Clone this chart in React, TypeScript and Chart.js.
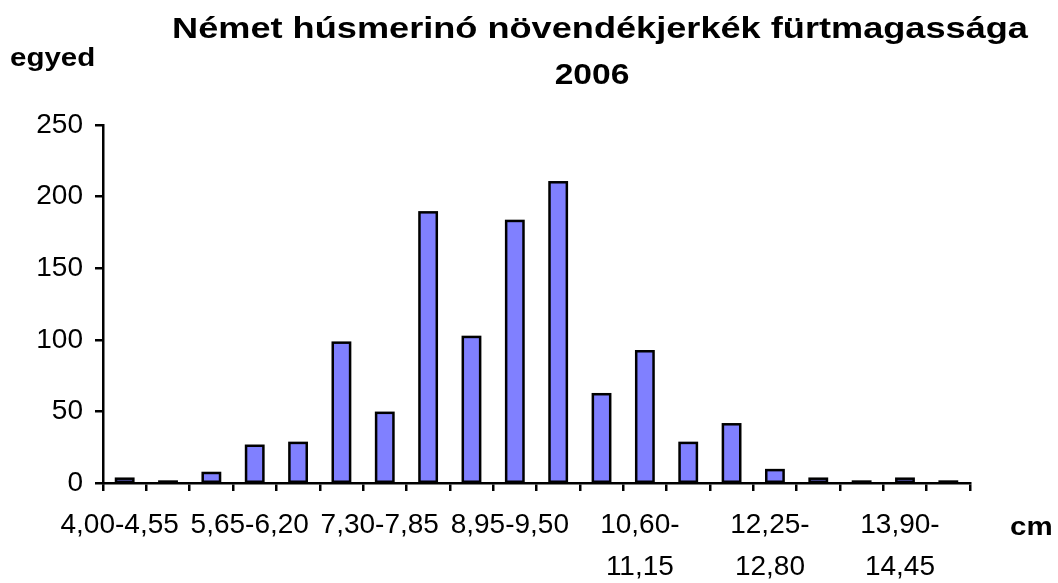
import React, { useEffect, useRef } from "react";
import { Chart, registerables } from "chart.js";

Chart.register(...registerables);

const categories: string[] = [
  "4,00-4,55", "4,55-5,10", "5,10-5,65", "5,65-6,20", "6,20-6,75",
  "6,75-7,30", "7,30-7,85", "7,85-8,40", "8,40-8,95", "8,95-9,50",
  "9,50-10,05", "10,05-10,60", "10,60-11,15", "11,15-11,70", "11,70-12,25",
  "12,25-12,80", "12,80-13,35", "13,35-13,90", "13,90-14,45", "14,45-15,00",
];

const counts: number[] = [3, 1, 7, 26, 28, 98, 49, 189, 102, 183, 210, 62, 92, 28, 41, 9, 3, 1, 3, 1];

const yTicks: number[] = [0, 50, 100, 150, 200, 250];

const titleLines: string[] = ["Német húsmerinó növendékjerkék fürtmagassága", "2006"];
const yAxisTitle = "egyed";
const xAxisTitle = "cm";

const FONT = "'Liberation Sans', Arial, Helvetica, sans-serif";

const barOutlinePlugin = {
  id: "barOutline",
  afterDatasetsDraw(chart: any) {
    const ctx = chart.ctx as CanvasRenderingContext2D;
    const meta = chart.getDatasetMeta(0);
    ctx.save();
    ctx.strokeStyle = "#000";
    ctx.lineWidth = 2.5;
    ctx.lineJoin = "miter";
    meta.data.forEach((el: any) => {
      const p = el.getProps(["x", "y", "base", "width"], true);
      ctx.strokeRect(p.x - p.width / 2, p.y, p.width, p.base - p.y);
    });
    ctx.restore();
  },
};

const textPlugin = {
  id: "customTexts",
  afterDraw(chart: any) {
    const ctx = chart.ctx as CanvasRenderingContext2D;
    ctx.save();
    ctx.fillStyle = "#000";
    ctx.textBaseline = "alphabetic";
    const draw = (t: string, x: number, y: number, size: number, align: CanvasTextAlign, sx: number) => {
      ctx.save();
      ctx.font = `bold ${size}px ${FONT}`;
      ctx.textAlign = align;
      ctx.translate(x, y);
      ctx.scale(sx, 1);
      ctx.fillText(t, 0, 0);
      ctx.restore();
    };
    draw(titleLines[0], 600, 38, 30, "center", 1.205);
    draw(titleLines[1], 592, 84, 30, "center", 1.12);
    draw(yAxisTitle, 10, 66, 25, "left", 1.18);
    draw(xAxisTitle, 1010, 535, 25, "left", 1.18);
    ctx.restore();
  },
};

export default function App() {
  const ref = useRef<HTMLCanvasElement | null>(null);
  useEffect(() => {
    if (!ref.current) return;
    const chart = new Chart(ref.current, {
      type: "bar",
      data: {
        labels: categories,
        datasets: [
          {
            data: counts,
            backgroundColor: "#8080FF",
            borderWidth: 0,
            barPercentage: 0.4,
            categoryPercentage: 1.0,
          },
        ],
      },
      options: {
        animation: false,
        responsive: true,
        maintainAspectRatio: false,
        layout: { padding: { left: 0, top: 125, right: 88, bottom: 0 } },
        plugins: {
          legend: { display: false },
          title: { display: false },
          tooltip: { enabled: false },
        },
        scales: {
          x: {
            offset: true,
            grid: {
              display: true,
              offset: true,
              drawOnChartArea: false,
              drawTicks: true,
              tickLength: 8,
              color: "#000",
              lineWidth: 2.5,
            },
            border: { display: true, color: "#000", width: 2.5 },
            ticks: {
              autoSkip: false,
              maxRotation: 0,
              minRotation: 0,
              padding: 13,
              labelOffset: -5,
              color: "#000",
              font: { family: FONT, size: 28, lineHeight: 1.5 },
              callback: function (_v: any, index: number) {
                if (index % 3 !== 0) return "";
                const lab = categories[index];
                if (lab.length > 9) {
                  const i = lab.indexOf("-");
                  return [lab.slice(0, i + 1), lab.slice(i + 1)];
                }
                return lab;
              },
            },
            afterFit: (scale: any) => {
              scale.height = 100;
            },
          },
          y: {
            min: 0,
            max: 250,
            grid: {
              display: true,
              drawOnChartArea: false,
              drawTicks: true,
              tickLength: 8,
              color: "#000",
              lineWidth: 2.5,
            },
            border: { display: true, color: "#000", width: 2.5 },
            afterBuildTicks: (scale: any) => {
              scale.ticks = yTicks.map((v) => ({ value: v }));
            },
            ticks: {
              padding: 12,
              color: "#000",
              font: { family: FONT, size: 28 },
            },
            afterFit: (scale: any) => {
              scale.width = 103;
            },
          },
        },
      },
      plugins: [barOutlinePlugin, textPlugin],
    });
    return () => chart.destroy();
  }, []);
  return (
    <div style={{ position: "fixed", left: 0, top: 0, width: 1058, height: 583, background: "#fff" }}>
      <canvas ref={ref} />
    </div>
  );
}
